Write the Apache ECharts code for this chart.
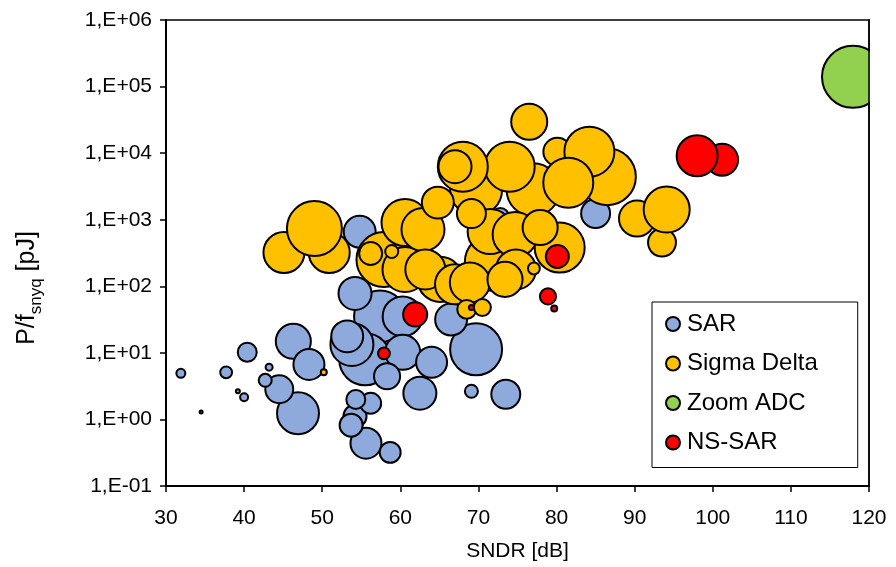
<!DOCTYPE html>
<html><head><meta charset="utf-8">
<script src="https://cdn.jsdelivr.net/npm/echarts@6/dist/echarts.min.js"></script>
<style>html,body{margin:0;padding:0;background:#fff}#c{width:896px;height:567px}</style>
</head><body><div id="c"></div>
<script>
const FONT = '"Liberation Sans", Arial, Helvetica, sans-serif';

// x-axis ticks (SNDR, dB)
const xMin = 30, xMax = 120, xStep = 10;
// y-axis tick labels (decades 1E-01 .. 1E+06)
const yTickLabels = ['1,E-01','1,E+00','1,E+01','1,E+02','1,E+03','1,E+04','1,E+05','1,E+06'];

// SAR
const sarX = [57.4, 55.5, 69.7, 53.8, 46.9, 60.3, 46.3, 60.3, 54.2, 62.5, 54.8, 53.2, 66.5, 48.3, 64.0, 55.6, 73.5, 85.0, 44.5, 58.3, 54.2, 53.7, 56.2, 58.7, 72.8, 40.4, 54.3, 42.7, 69.1, 37.7, 31.9, 40.0, 43.2, 39.2, 34.5];
const sarY = [35.3, 8.0, 11.3, 13.4, 1.24, 35.3, 14.9, 10.2, 78, 2.48, 660, 17.7, 31.8, 6.7, 7.2, 0.44, 2.39, 1240, 2.84, 4.45, 1.12, 0.82, 1.75, 0.32, 1110, 10.2, 2.0, 3.87, 2.65, 5.1, 4.93, 2.16, 6.1, 2.65, 1.29];
const sarBubble = [270, 270, 270, 185, 176, 160, 123, 123, 109, 109, 102, 102, 102, 96, 96, 96, 84, 84, 78, 68, 53, 53, 44, 44, 30, 36, 36, 17, 17, 14, 8.1, 6.4, 4.9, 1.6, 0.9];

// Sigma Delta
const sdX = [45.1, 50.9, 49.0, 80.1, 86.5, 71.9, 57.9, 77.0, 69.7, 74.0, 68.0, 84.2, 81.5, 80.4, 71.5, 60.6, 65.1, 74.7, 60.6, 62.9, 63.2, 67.0, 68.9, 74.8, 76.5, 90.3, 93.5, 94.1, 73.4, 77.9, 67.0, 64.8, 69.1, 56.2, 68.5, 70.5, 58.9, 77.1, 50.2];
const sdY = [321, 321, 736, 10500, 4436, 228, 252, 2830, 2830, 6250, 6250, 10500, 3600, 382, 664, 906, 127, 598, 179, 711, 179, 107, 114, 179, 29600, 1040, 454, 1419, 127, 762, 6250, 1807, 1236, 311, 45, 48, 333, 185, 5.1];
const sdBubble = [168, 168, 302, 78, 325, 325, 302, 281, 270, 250, 250, 250, 250, 250, 203, 221, 203, 203, 203, 185, 160, 160, 160, 160, 130, 130, 78, 212, 123, 123, 109, 102, 84, 53, 36, 29, 17, 14, 3.6];

// Zoom ADC
const zoomX = [117.95];
const zoomY = [140000];
const zoomBubble = [384];

// NS-SAR
const nsX = [61.9, 57.9, 80.1, 78.9, 79.7, 69.1, 101.2, 98.0];
const nsY = [37.8, 9.8, 280, 70.4, 46.5, 48.2, 7970, 9150];
const nsBubble = [58, 14, 53, 26, 3.6, 2.5, 102, 168];

function pts(xs, ys, bs) { return xs.map((x, i) => [x, ys[i], bs[i]]); }
const sizeFn = v => Math.sqrt(v[2] * 10);

function mk(name, xs, ys, bs, color) {
  return {
    type: 'scatter', name: name, data: pts(xs, ys, bs),
    symbol: 'circle', symbolSize: sizeFn,
    itemStyle: { color: color, borderColor: '#000', borderWidth: 2, opacity: 1 },
    emphasis: { disabled: true }, silent: true
  };
}

const chart = echarts.init(document.getElementById('c'), null, { renderer: 'canvas' });
const option = {
  animation: false,
  backgroundColor: '#fff',
  textStyle: { fontFamily: FONT },
  grid: { left: 166, right: 27, top: 20, bottom: 80, show: true, borderColor: '#000', borderWidth: 1.5, backgroundColor: 'rgba(0,0,0,0)', containLabel: false },
  legend: {
    orient: 'vertical', left: 652, top: 302,
    data: ['SAR', 'Sigma Delta', 'Zoom ADC', 'NS-SAR'],
    icon: 'circle', itemWidth: 14, itemHeight: 14, itemGap: 15.5,
    padding: [10, 40, 13, 13],
    backgroundColor: '#fff', borderColor: '#000', borderWidth: 1, borderRadius: 0,
    textStyle: { color: '#000', fontSize: 24, fontFamily: FONT, padding: [0, 0, 0, 2] },
    selectedMode: false
  },
  xAxis: {
    type: 'value', min: xMin, max: xMax, interval: xStep,
    axisLine: { show: true, onZero: false, lineStyle: { color: '#000', width: 2 } },
    axisTick: { show: true, inside: false, length: 6, lineStyle: { color: '#000', width: 1.5 } },
    axisLabel: { color: '#000', fontSize: 21, fontFamily: FONT, margin: 22 },
    splitLine: { show: false },
    name: 'SNDR [dB]', nameLocation: 'middle', nameGap: 55,
    nameTextStyle: { color: '#000', fontSize: 21, fontFamily: FONT }
  },
  yAxis: {
    type: 'log', logBase: 10, min: 0.1, max: 1e6, interval: 1,
    axisLine: { show: true, onZero: false, lineStyle: { color: '#000', width: 2 } },
    axisTick: { show: true, inside: false, length: 6, lineStyle: { color: '#000', width: 1.5 } },
    axisLabel: {
      color: '#000', fontSize: 21, fontFamily: FONT, margin: 14,
      formatter: v => { const e = Math.round(Math.log10(v)); return yTickLabels[e + 1] || ''; }
    },
    splitLine: { show: false },
    name: '{a|P/f}{b|snyq}{a| [pJ]}', nameLocation: 'middle', nameRotate: 90, nameGap: 121,
    nameTextStyle: {
      color: '#000', fontFamily: FONT, padding: [0, 70, 0, 0],
      rich: {
        a: { fontSize: 25, fontFamily: FONT, color: '#000', lineHeight: 25, verticalAlign: 'top' },
        b: { fontSize: 17, fontFamily: FONT, color: '#000', padding: [13, 0, 0, 0], verticalAlign: 'bottom' }
      }
    }
  },
  series: [
    mk('SAR', sarX, sarY, sarBubble, '#8EA9DB'),
    mk('Sigma Delta', sdX, sdY, sdBubble, '#FFC000'),
    mk('Zoom ADC', zoomX, zoomY, zoomBubble, '#92D050'),
    mk('NS-SAR', nsX, nsY, nsBubble, '#FF0000')
  ]
};
chart.setOption(option);

// clip bubbles at the right edge of the plot frame
const rx = chart.convertToPixel({ xAxisIndex: 0 }, xMax);
const ty = chart.convertToPixel({ yAxisIndex: 0 }, 1e6);
const by = chart.convertToPixel({ yAxisIndex: 0 }, 0.1);
chart.setOption({
  graphic: [
    { type: 'rect', silent: true, z: 100, shape: { x: rx + 1, y: 0, width: 896 - rx, height: by - 3 }, style: { fill: '#fff' } },
    { type: 'line', silent: true, z: 101, shape: { x1: rx, y1: ty - 0.75, x2: rx, y2: by + 0.75 }, style: { stroke: '#000', lineWidth: 1.5 } }
  ]
});
</script>
</body></html>
